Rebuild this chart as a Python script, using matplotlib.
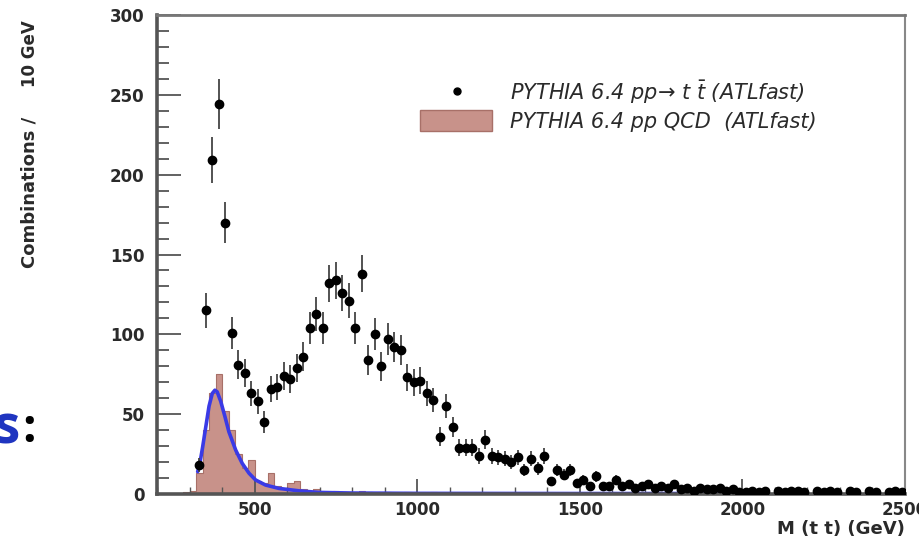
import numpy as np
import matplotlib
matplotlib.use("Agg")
import matplotlib.pyplot as plt
from matplotlib.patches import Rectangle
from matplotlib.ticker import MultipleLocator

plt.rcParams['font.family'] = ['DejaVu Sans']
plt.rcParams['mathtext.fontset'] = 'dejavusans'

# 20 GeV bins from 200 to 2500 GeV
bin_edges = np.arange(200, 2520, 20)

# ttbar signal: bin centre (GeV) -> combinations
ttbar_mass = [330, 350, 370, 390, 410, 430, 450, 470, 490, 510, 530, 550, 570, 590,
              610, 630, 650, 670, 690, 710, 730, 750, 770, 790, 810, 830, 850, 870,
              890, 910, 930, 950, 970, 990, 1010, 1030, 1050, 1070, 1090, 1110, 1130,
              1150, 1170, 1190, 1210, 1230, 1250, 1270, 1290, 1310, 1330, 1350, 1370,
              1390, 1410, 1430, 1450, 1470, 1490, 1510, 1530, 1550, 1570, 1590, 1610,
              1630, 1650, 1670, 1690, 1710, 1730, 1750, 1770, 1790, 1810, 1830, 1850,
              1870, 1890, 1910, 1930, 1950, 1970, 1990, 2010, 2030, 2050, 2070, 2110,
              2130, 2150, 2170, 2190, 2230, 2250, 2270, 2290, 2330, 2350, 2390, 2410,
              2450, 2470, 2490]
ttbar_counts = [18, 115, 209, 244, 170, 101, 81, 76, 63, 58, 45, 66, 67, 74,
                72, 79, 86, 104, 113, 104, 132, 134, 126, 121, 104, 138, 84, 100,
                80, 97, 92, 90, 73, 70, 71, 63, 59, 36, 55, 42, 29,
                29, 29, 24, 34, 24, 23, 22, 20, 23, 15, 22, 16,
                24, 8, 15, 12, 15, 7, 9, 5, 11, 5, 5, 9,
                5, 6, 4, 5, 6, 4, 5, 4, 6, 3, 4, 2,
                4, 3, 3, 4, 2, 3, 1, 1, 2, 1, 2, 2,
                1, 2, 2, 1, 2, 1, 2, 1, 2, 1, 2, 1,
                1, 2, 1]

# QCD background per 20 GeV bin, starting at 200 GeV
qcd_counts = [0, 0, 0, 0, 1, 2, 13, 40, 63, 75, 52, 40, 25, 16, 21, 8, 7, 13, 5, 4,
              7, 8, 3, 2, 3, 1, 1, 2, 1, 1, 0, 2, 1, 0, 1, 1, 0, 0, 1, 0,
              0, 0, 1, 0, 0, 0, 0, 0, 0, 0, 0, 0, 0, 0, 0, 0, 0, 0, 0, 0,
              0, 0, 0, 0, 0, 0, 0, 0, 0, 0, 0, 0, 0, 0, 0, 0, 0, 0, 0, 0,
              0, 0, 0, 0, 0, 0, 0, 0, 0, 0, 0, 0, 0, 0, 0, 0, 0, 0, 0, 0,
              0, 0, 0, 0, 0, 0, 0, 0, 0, 0, 0, 0, 0, 0, 0]

# fitted QCD shape
fit_mass = [325, 330, 340, 350, 360, 370, 378, 385, 396, 409, 421, 442, 462, 483,
            503, 534, 575, 636, 697, 800, 1000, 1500, 2000]
fit_value = [14, 17, 29, 42, 55, 63, 65, 64, 58, 48.4, 39, 27.5, 19.2, 13,
             8.8, 5.6, 3.5, 2.0, 1.0, 0.6, 0.4, 0.3, 0.3]

x_ticks = [500, 1000, 1500, 2000, 2500]
y_ticks = [0, 50, 100, 150, 200, 250, 300]

text_col = '#2a2a2a'
fig = plt.figure(figsize=(9.19, 5.40), dpi=100)
ax = fig.add_axes([157 / 919, 1 - 494 / 540, 748 / 919, 479 / 540])

qcd_fill = '#c8928a'
ax.stairs(qcd_counts, bin_edges, fill=True, color=qcd_fill, zorder=1)
ax.stairs(qcd_counts, bin_edges, fill=False, color='#a87068', lw=0.8, zorder=1.5)

ax.plot(fit_mass, fit_value, color='#3a3ae6', lw=2.6, zorder=2, solid_capstyle='round')

tt = np.array(ttbar_counts, dtype=float)
ax.errorbar(ttbar_mass, tt, yerr=np.sqrt(tt), xerr=10, fmt='o', ms=6,
            color='black', ecolor='#444444', elinewidth=1.3, capsize=0, zorder=3)

ax.set_xlim(200, 2500)
ax.set_ylim(0, 300)
ax.set_xticks(x_ticks)
ax.set_yticks(y_ticks)
ax.xaxis.set_minor_locator(MultipleLocator(100))
ax.yaxis.set_minor_locator(MultipleLocator(10))
ax.tick_params(axis='y', which='major', direction='in', length=17, width=1.3,
               color='#555555', pad=9, labelsize=12)
ax.tick_params(axis='y', which='minor', direction='in', length=8.5, width=1.3,
               color='#555555')
ax.tick_params(axis='x', which='major', direction='in', length=11, width=1.3,
               color='#555555', pad=5, labelsize=12)
ax.tick_params(axis='x', which='minor', direction='in', length=5, width=1.0,
               color='#555555')
for lab in ax.get_xticklabels() + ax.get_yticklabels():
    lab.set_fontweight('bold')
    lab.set_color(text_col)

for side, w, c in [('left', 2.6, '#555555'), ('bottom', 2.6, '#555555'),
                   ('top', 2.0, '#777777'), ('right', 1.5, '#888888')]:
    ax.spines[side].set_linewidth(w)
    ax.spines[side].set_color(c)

# legend drawn in axes coordinates
ax.plot([0.401], [0.841], 'o', ms=5, color='black', transform=ax.transAxes, clip_on=False)
ax.add_patch(Rectangle((0.3516, 0.758), 0.0963, 0.044, transform=ax.transAxes,
                       facecolor=qcd_fill, edgecolor='#a87068', lw=1))
ax.text(0.472, 0.839, 'PYTHIA 6.4 pp\u2192 t $\\bar{t}$ (ATLfast)',
        transform=ax.transAxes, fontsize=15, style='italic', va='center', ha='left',
        color=text_col)
ax.text(0.472, 0.7766, 'PYTHIA 6.4 pp QCD  (ATLfast)', transform=ax.transAxes,
        fontsize=15, style='italic', va='center', ha='left', color=text_col)

fig.text(905 / 919, 1 - 529 / 540, 'M (t t) (GeV)', ha='right', va='center',
         fontsize=13, fontweight='bold', color=text_col)
fig.text(30 / 919, 1 - 117 / 540, 'Combinations /', rotation=90,
         ha='center', va='top', fontsize=13, fontweight='bold', color=text_col)
fig.text(30 / 919, 1 - 20 / 540, '10 GeV', rotation=90,
         ha='center', va='top', fontsize=12, fontweight='bold', color=text_col)

# slide text fragment at the left edge
fig.text(20 / 919, 1 - 430 / 540, 's', ha='right', va='center', fontsize=38,
         fontweight='bold', color='#1f35c0', family='Open Sans')
fig.text(22 / 919, 1 - 430 / 540, ':', ha='left', va='center', fontsize=34,
         fontweight='bold', color='black', family='Open Sans')

fig.savefig('out.png', dpi=100)
